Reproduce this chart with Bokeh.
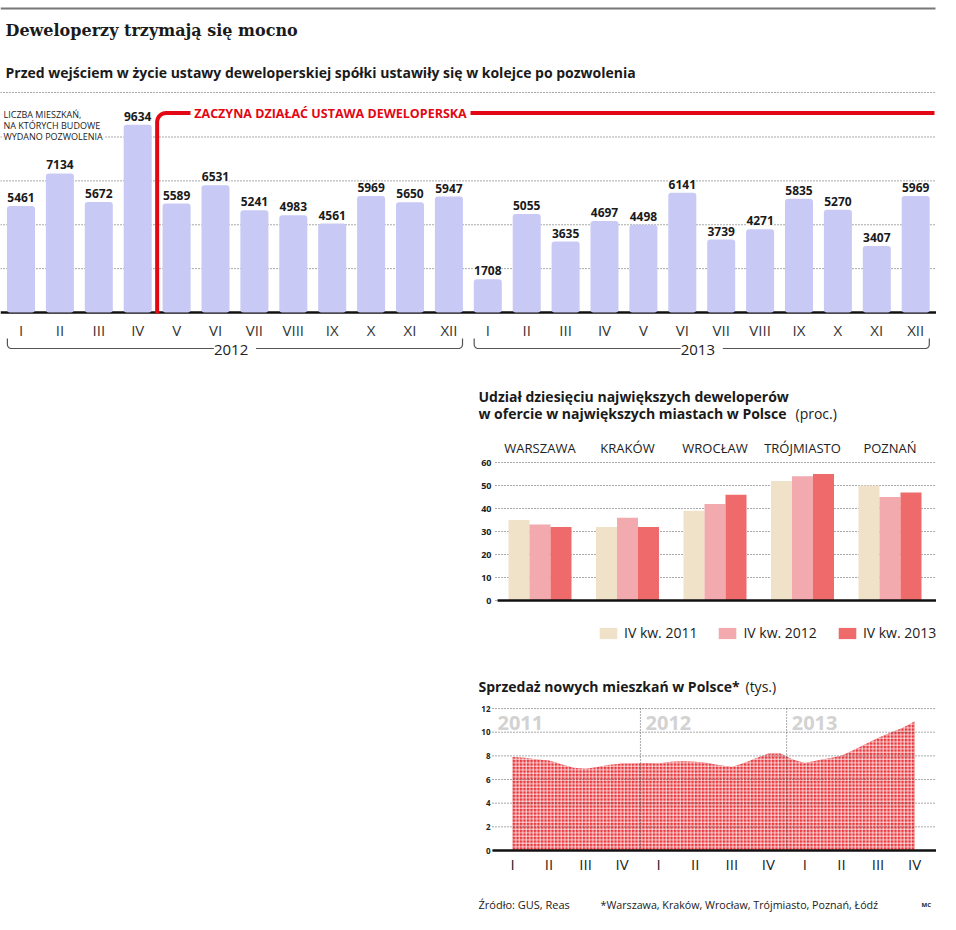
import numpy as np
from bokeh.plotting import figure
from bokeh.models import (Range1d, ColumnDataSource, Label, LabelSet, Span,
                          Legend, LegendItem, Spacer)
from bokeh.layouts import column, row
from bokeh.core.properties import value
from bokeh.embed import file_html
from bokeh.resources import INLINE

# ---------------- data ----------------
months = ["I", "II", "III", "IV", "V", "VI", "VII", "VIII", "IX", "X", "XI", "XII"]
years_top = ["2012", "2013"]
permits_2012 = [5461, 7134, 5672, 9634, 5589, 6531, 5241, 4983, 4561, 5969, 5650, 5947]
permits_2013 = [1708, 5055, 3635, 4697, 4498, 6141, 3739, 4271, 5835, 5270, 3407, 5969]
permit_grid = [2250, 4500, 6750, 9000]

cities = ["WARSZAWA", "KRAKÓW", "WROCŁAW", "TRÓJMIASTO", "POZNAŃ"]
share_2011 = [35, 32, 39, 52, 50]
share_2012 = [33, 36, 42, 54, 45]
share_2013 = [32, 32, 46, 55, 47]
share_labels = ["IV kw. 2011", "IV kw. 2012", "IV kw. 2013"]
share_ticks = [0, 10, 20, 30, 40, 50, 60]

quarters = ["I", "II", "III", "IV"] * 3
sales_years = ["2011", "2012", "2013"]
sales_monthly = [7.9, 7.85, 7.7, 7.6, 7.3, 7.0, 6.9, 7.05, 7.25, 7.35, 7.35, 7.4,
                 7.35, 7.5, 7.55, 7.5, 7.4, 7.2, 7.05, 7.4, 7.8, 8.2, 8.2, 7.7,
                 7.4, 7.6, 7.8, 8.0, 8.5, 9.0, 9.5, 9.95, 10.35, 10.9]
sales_ticks = [0, 2, 4, 6, 8, 10, 12]

FONT = "Open Sans"
SERIF = "DejaVu Serif"
INK = "#1a1a1a"
GRID = "#555555"
RED = "#e30613"


def base_fig(**kw):
    p = figure(output_backend="svg", toolbar_location=None, min_border=0,
               outline_line_color=None, background_fill_color="white",
               border_fill_color="white", x_axis_location=None, y_axis_location=None, **kw)
    p.xgrid.visible = False
    p.ygrid.visible = False
    return p


def lab(p, x, y, text, size, color=INK, bold=False, align="left", font=FONT, bg=None):
    p.add_layout(Label(x=x, y=y, text=text, text_font=font, text_font_size=f"{size}px",
                       text_font_style="bold" if bold else "normal", text_color=color,
                       text_align=align, text_baseline="middle", background_fill_color=bg))


# ---------------- header (page pixels) ----------------
hdr = base_fig(width=948, height=98, x_range=Range1d(0, 948), y_range=Range1d(98, 0))
hdr.line(x=[0, 935], y=[8, 8], line_color="#777777", line_width=2)
lab(hdr, 5, 30, "Deweloperzy trzymają się mocno", 16, bold=True, font=SERIF)
lab(hdr, 5, 72, "Przed wejściem w życie ustawy deweloperskiej spółki ustawiły się w kolejce po pozwolenia",
    14, bold=True)
hdr.line(x=[0, 935], y=[92, 92], line_color=GRID, line_width=1, line_dash="1 2")

# ---------------- top bar chart ----------------
K = 1 / 0.0195           # value units per pixel


def ty(page_y):
    return (312 - page_y) * K


def tx(page_x):
    return (page_x - 20.5) / 38.9


top = base_fig(width=936, height=272, x_range=Range1d(tx(0), tx(936)),
               y_range=Range1d(ty(370), ty(98)))
for g in permit_grid:
    top.add_layout(Span(location=g, dimension="width", line_color=GRID, line_width=1,
                        line_dash="1 2", level="underlay"))
top.add_layout(Span(location=0, dimension="width", line_color="#111111", line_width=2.5,
                    level="underlay"))

vals = permits_2012 + permits_2013
src = ColumnDataSource(dict(x=list(range(len(vals))), top=vals,
                            label=[str(v) for v in vals], month=months * 2))
top.vbar(x="x", top="top", width=0.72, source=src, fill_color="#c9c9f6", line_color=None,
         border_radius=3)
top.add_layout(LabelSet(x="x", y="top", text="label", source=src, text_align="center",
                        text_baseline="bottom", y_offset=4, text_font=value(FONT),
                        text_font_size="12px", text_font_style="bold", text_color=INK,
                        background_fill_color="white"))
top.text(x="x", y=ty(329), text="month", source=src, text_align="center",
         text_baseline="middle", text_font=value(FONT), text_font_size="15px",
         text_color="#333333")

# red "law" line
sep = 3.5
yh = ty(112.5)
rx, ry = 9 / 38.9, 9 * K
th = np.linspace(np.pi, np.pi / 2, 10)
ax = sep + rx + rx * np.cos(th)
ay = yh - ry + ry * np.sin(th)
top.line(x=[sep] + list(ax) + [tx(190)], y=[ty(313)] + list(ay) + [yh],
         line_color=RED, line_width=4, line_join="round")
top.line(x=[tx(470), tx(934)], y=[yh, yh], line_color=RED, line_width=4)
lab(top, tx(330), yh, "ZACZYNA DZIAŁAĆ USTAWA DEWELOPERSKA", 12.5, color=RED, bold=True,
    align="center")

# y label
lab(top, tx(3), ty(114), "LICZBA MIESZKAŃ,", 9, color="#222222")
lab(top, tx(3), ty(125), "NA KTÓRYCH BUDOWĘ", 9, color="#222222")
lab(top, tx(3), ty(135.5), "WYDANO POZWOLENIA ", 9, color="#222222", bg="white")

# year brackets
by0, by1 = ty(338), ty(348)
bx_r, by_r = 4 / 38.9, 4 * K
for j, yr in enumerate(years_top):
    x0, x1 = j * 12 - 0.35, j * 12 + 11.35
    t1 = np.linspace(np.pi, 1.5 * np.pi, 6)
    t2 = np.linspace(1.5 * np.pi, 2 * np.pi, 6)
    xs = [x0] + list(x0 + bx_r + bx_r * np.cos(t1)) + list(x1 - bx_r + bx_r * np.cos(t2)) + [x1]
    ys = [by0] + list(by1 + by_r + by_r * np.sin(t1)) + list(by1 + by_r + by_r * np.sin(t2)) + [by0]
    top.line(x=xs, y=ys, line_color="#555555", line_width=1.2)
    lab(top, j * 12 + 5.5, by1, f" {yr} ", 15, color="#222222", align="center", bg="white")

# ---------------- middle grouped bars ----------------
def my(page_y):
    return (600 - page_y) / 2.3


def mx(page_x):
    return (page_x - 539.5) / 87.5


mid = base_fig(width=458, height=285, x_range=Range1d(mx(478), mx(936)),
               y_range=Range1d(my(655), my(370)))
# grid + tick labels
mid.segment(x0=mx(495), y0=share_ticks, x1=mx(936), y1=share_ticks, line_color=GRID,
            line_width=1, line_dash="1 2")
mid.text(x=mx(491), y=share_ticks, text=[str(t) for t in share_ticks], text_align="right",
         text_baseline="middle", text_font=value(FONT), text_font_size="9px",
         text_font_style="bold", text_color="#222222")

w = 0.24
idx = np.arange(len(cities))
src2 = ColumnDataSource(dict(k=idx, city=cities, s11=share_2011, s12=share_2012, s13=share_2013,
                             x11=idx - w, x12=idx, x13=idx + w))
colors = ["#efe2c8", "#f2aaae", "#ef6b6b"]
rs = []
for xc, col, c in zip(["x11", "x12", "x13"], ["s11", "s12", "s13"], colors):
    rs.append(mid.vbar(x=xc, top=col, width=w, source=src2, fill_color=c, line_color=None))
mid.segment(x0=mx(497), y0=0, x1=mx(936), y1=0, line_color="#111111", line_width=2.5)
mid.text(x="k", y=my(447), text="city", source=src2, text_align="center",
         text_baseline="middle", text_font=value(FONT), text_font_size="13px",
         text_color="#222222")
legend = Legend(items=[LegendItem(label=l, renderers=[r]) for l, r in zip(share_labels, rs)],
                orientation="horizontal", location=(119, 13), glyph_width=22, glyph_height=14,
                label_height=14, label_standoff=5, spacing=19, padding=0, margin=0,
                border_line_color=None, background_fill_alpha=0, label_text_font=FONT,
                label_text_font_size="14px", label_text_color="#222222")
mid.add_layout(legend)
lab(mid, mx(478), my(396), "Udział dziesięciu największych deweloperów", 14, bold=True)
lab(mid, mx(478), my(413), "w ofercie w największych miastach w Polsce", 14, bold=True)
lab(mid, mx(795), my(413), "(proc.)", 14)

# ---------------- bottom area ----------------
def bxp(page_x):
    return (page_x - 512) / 36.55


def byp(page_y):
    return (850 - page_y) / 11.83


bot = base_fig(width=458, height=259, x_range=Range1d(bxp(478), bxp(936)),
               y_range=Range1d(byp(914), byp(655)))

mxs = [i / 3 for i in range(len(sales_monthly))]
bot.varea(x=mxs, y1=0, y2=sales_monthly, fill_color="#e8383d", hatch_pattern="+",
          hatch_color="white", hatch_scale=3.5, hatch_weight=0.8)
bot.segment(x0=bxp(492), y0=sales_ticks, x1=bxp(936), y1=sales_ticks, line_color=GRID,
            line_width=1, line_dash="1 2")
bot.text(x=bxp(490), y=sales_ticks, text=[str(t) for t in sales_ticks], text_align="right",
         text_baseline="middle", text_font=value(FONT), text_font_size="8px",
         text_font_style="bold", text_color="#222222")
seps = [4 * j - 0.5 for j in range(1, len(sales_years))]
bot.segment(x0=seps, y0=0, x1=seps, y1=sales_ticks[-1], line_color=GRID, line_width=1,
            line_dash="1 2")
bot.segment(x0=bxp(492), y0=0, x1=bxp(936), y1=0, line_color="#111111", line_width=2.5)
bot.text(x=[bxp(497)] + [s + 0.14 for s in seps], y=byp(722), text=sales_years,
         text_align="left", text_baseline="middle", text_font=value(FONT),
         text_font_size="20px", text_font_style="bold", text_color="#d2d2d2")
bot.text(x=list(range(len(quarters))), y=byp(863), text=quarters, text_align="center",
         text_baseline="middle", text_font=value(FONT), text_font_size="15px",
         text_color="#222222")
lab(bot, bxp(478), byp(686), "Sprzedaż nowych mieszkań w Polsce*", 14, bold=True)
lab(bot, bxp(745), byp(686), "(tys.)", 14)
lab(bot, bxp(478), byp(904), "Źródło: GUS, Reas", 11)
lab(bot, bxp(600), byp(904), "*Warszawa, Kraków, Wrocław, Trójmiasto, Poznań, Łódź", 10.7)
lab(bot, bxp(921), byp(904), "MC", 6, bold=True)

layout = column(hdr, top, row(Spacer(width=478, height=544), column(mid, bot)))

open("out.html", "w").write(file_html(layout, INLINE))
